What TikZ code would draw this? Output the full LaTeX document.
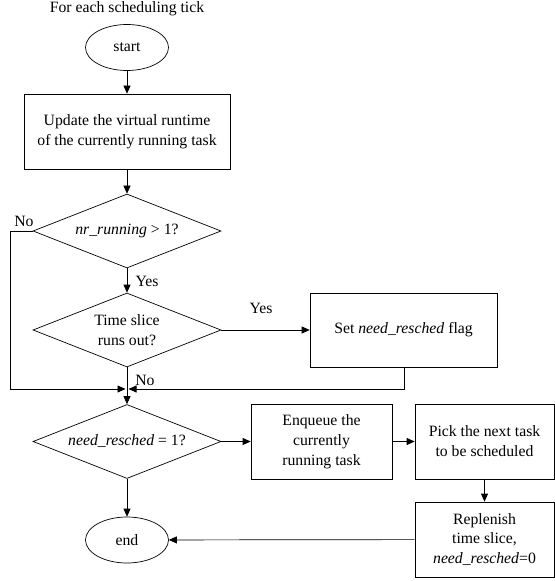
\documentclass[tikz,border=0pt]{standalone}
\usepackage{fontspec}
\setmainfont{Liberation Serif}
\usetikzlibrary{shapes.geometric,arrows.meta}
\begin{document}
\begin{tikzpicture}[x=1bp,y=-1bp,
  every node/.style={font=\fontsize{15.8}{20}\selectfont},
  base/.style={draw, line width=0.7bp, inner sep=0pt, align=center},
  boxn/.style={base, rectangle},
  ovaln/.style={base, ellipse, minimum width=83bp, minimum height=46bp},
  dia/.style={base, diamond, aspect=2.54, minimum width=188bp, minimum height=74bp},
  conn/.style={line width=0.7bp, -{Triangle[length=8bp,width=7bp]}},
  plain/.style={line width=0.7bp},
  lbl/.style={inner sep=0pt}
]
\useasboundingbox (0,0) rectangle (555,581);

\node[lbl] (title) at (127,9) {For each scheduling tick};
\node[ovaln] (start) at (127,47.5) {start};
\node[boxn, minimum width=206bp, minimum height=75bp] (upd) at (127,131.5) {Update the virtual runtime\\of the currently running task};
\node[dia] (d1) at (127,231) {\textit{nr\_running} > 1?};
\node[dia] (d2) at (127,330) {Time slice\\runs out?};
\node[boxn, minimum width=187bp, minimum height=74bp] (set) at (403.5,330) {Set \textit{need\_resched} flag};
\node[dia] (d3) at (127,441.5) {\textit{need\_resched} = 1?};
\node[boxn, minimum width=141bp, minimum height=75bp] (enq) at (321.5,441.5) {Enqueue the\\currently\\running task};
\node[boxn, minimum width=139bp, minimum height=75bp] (pick) at (484.5,441.5) {Pick the next task\\to be scheduled};
\node[boxn, minimum width=139bp, minimum height=75bp] (rep) at (484.5,539.5) {Replenish\\time slice,\\\textit{need\_resched}=0};
\node[ovaln] (end) at (127,540) {end};

\coordinate (nl1) at (10,231);
\coordinate (nl2) at (10,389);
\coordinate (m) at (127,389);
\coordinate (sr) at (404,389);

\draw[conn] (start) -- (upd);
\draw[conn] (upd) -- (d1);
\draw[conn] (d1) -- (d2);
\draw[conn] (d2) -- (set);
\draw[plain] (d2.south) -- (m);
\draw[conn] (m) -- (d3.north);
\draw[conn, shorten >=1.5bp] (d1.west) -- (nl1) -- (nl2) -- (m);
\draw[conn, shorten >=1.5bp] (set.south -| sr) -- (sr) -- (m);
\draw[conn] (d3) -- (enq);
\draw[conn] (enq) -- (pick);
\draw[conn] (pick) -- (rep);
\draw[conn] (rep) -- (end);
\draw[conn] (d3) -- (end);

\node[lbl] (no1) at (24,221) {No};
\node[lbl] (yes1) at (147,281) {Yes};
\node[lbl] (yes2) at (261,308) {Yes};
\node[lbl] (no2) at (145,380) {No};
\end{tikzpicture}
\end{document}
